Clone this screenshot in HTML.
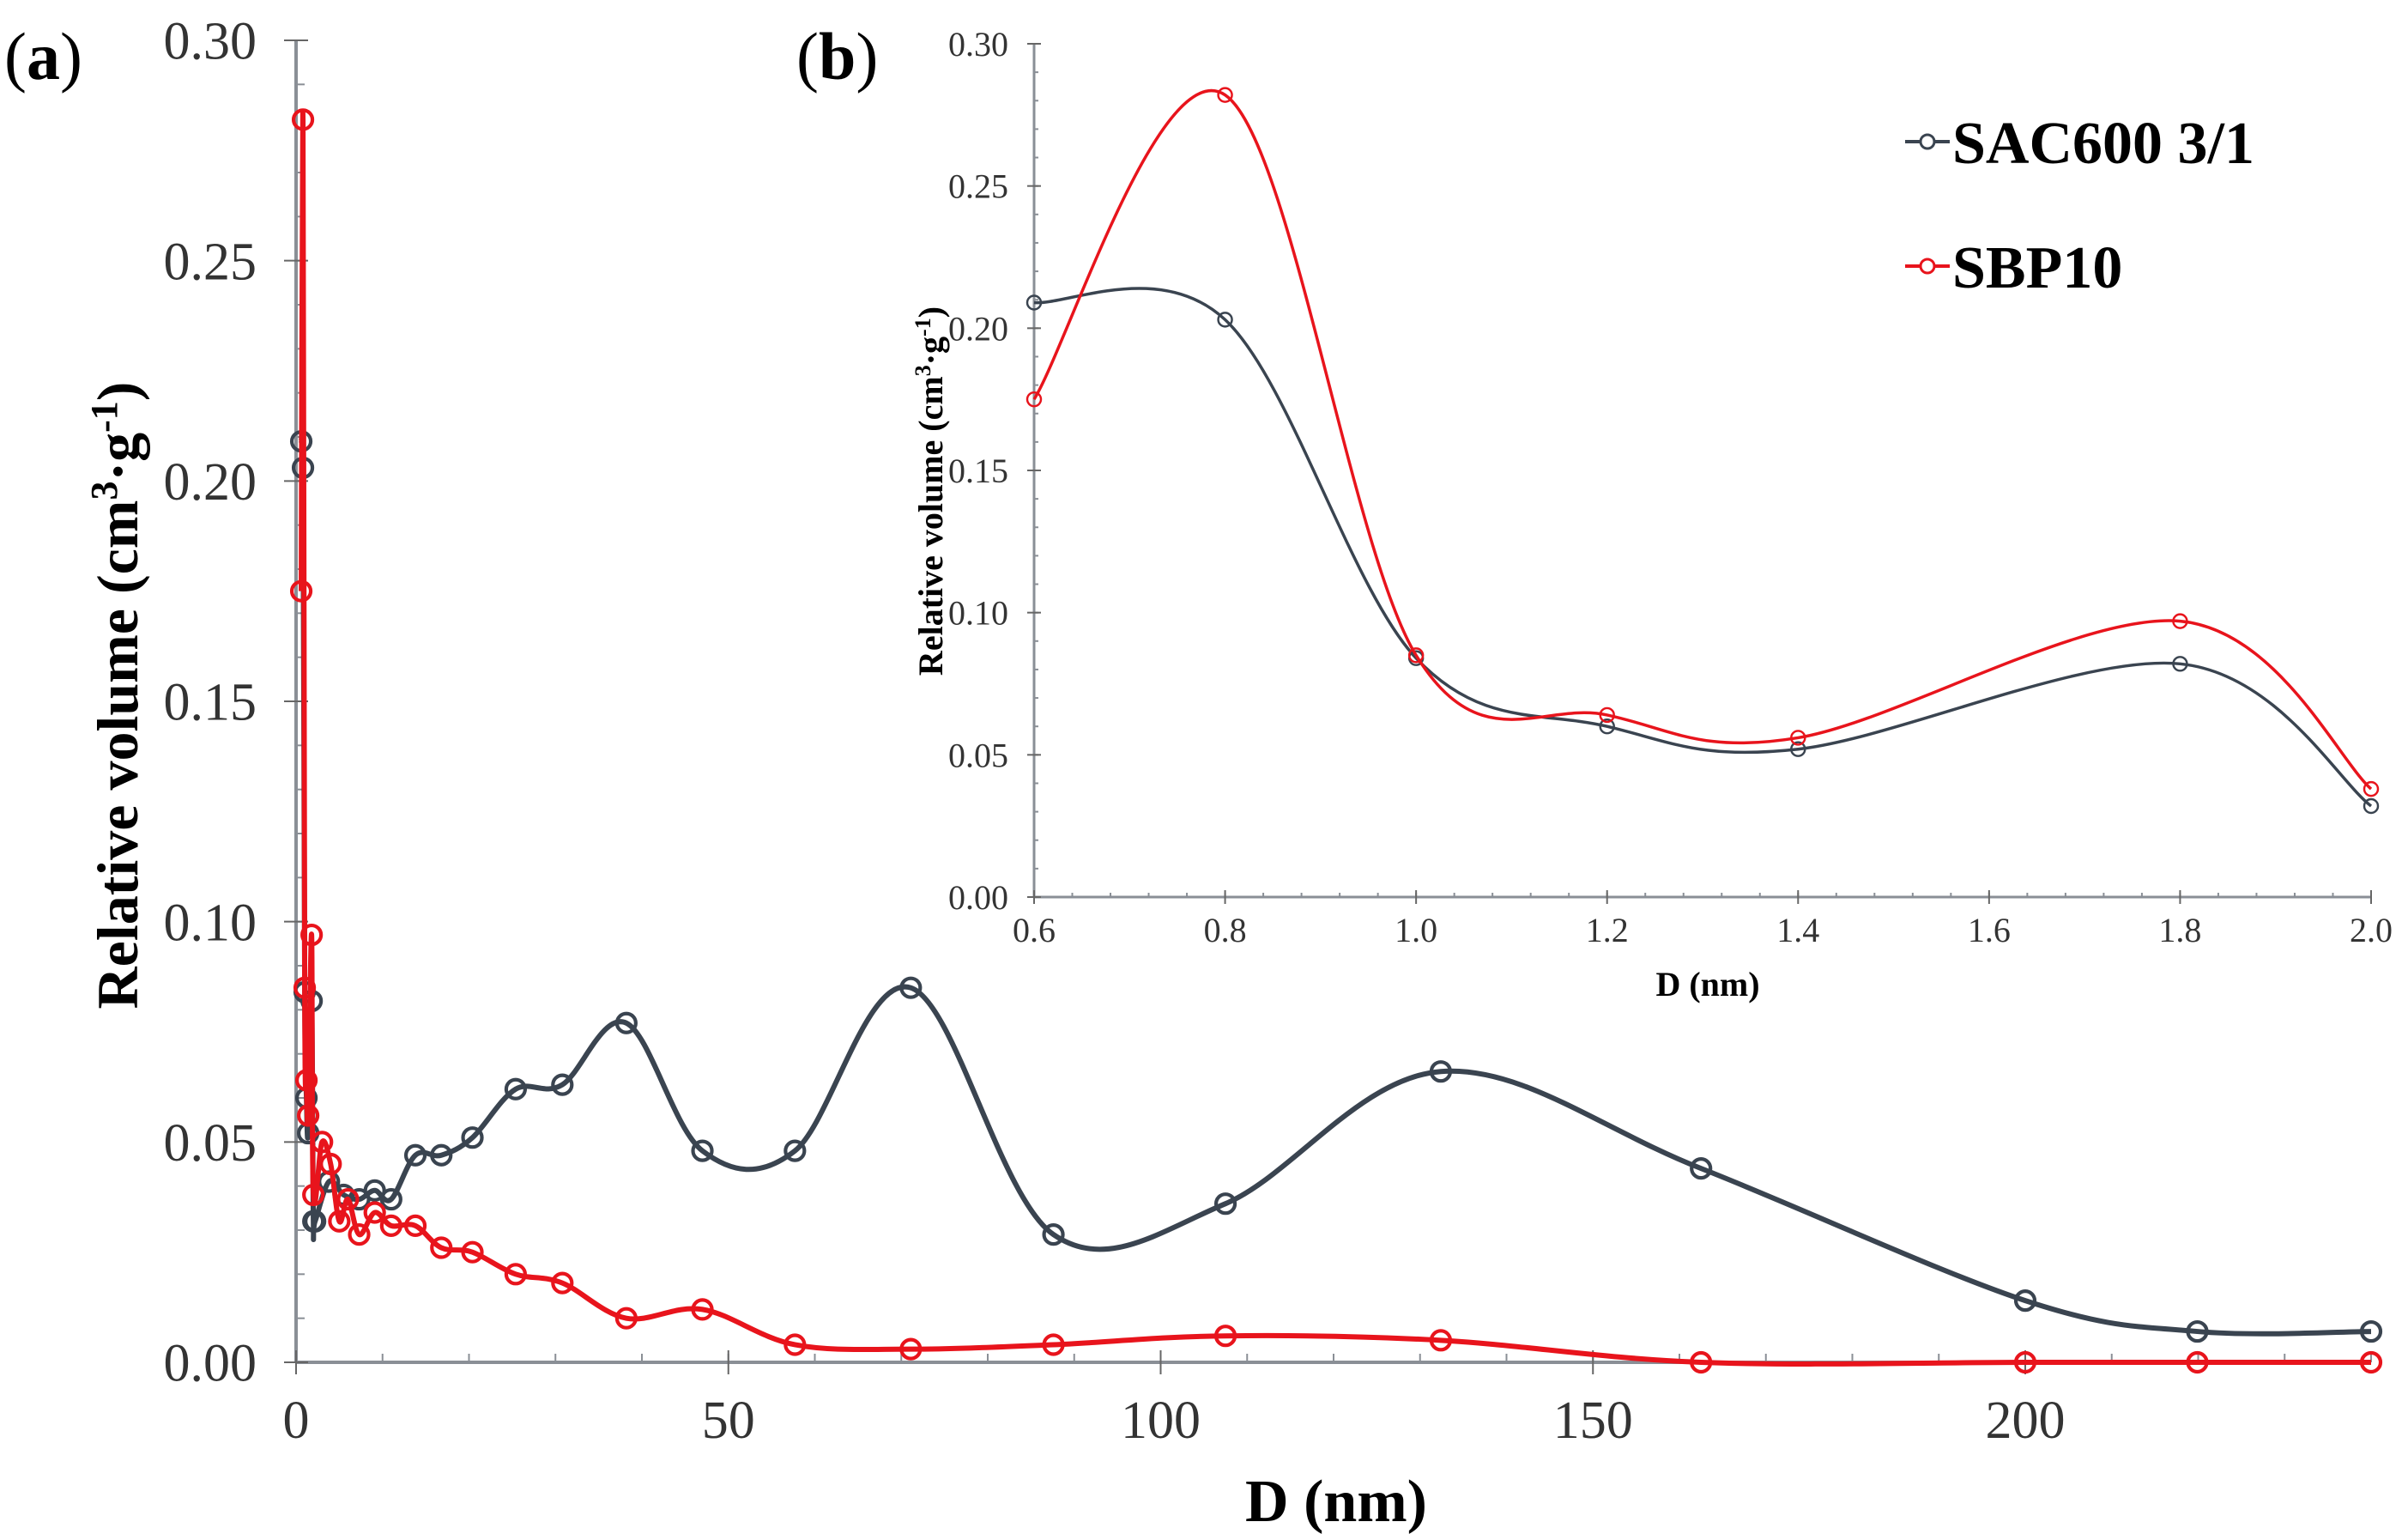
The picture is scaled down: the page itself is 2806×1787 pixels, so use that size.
<!DOCTYPE html>
<html><head><meta charset="utf-8"><style>
html,body{margin:0;padding:0;background:#fff;}
svg{display:block;font-family:"Liberation Serif",serif;}
</style></head><body>
<svg id="chart" width="2806" height="1787" viewBox="0 0 2806 1787" xmlns="http://www.w3.org/2000/svg">
<g id="main"></g>
<g id="inset"></g>
<text x="5" y="92" font-size="78">(<tspan font-weight="bold">a</tspan>)</text>
<text x="928" y="92" font-size="78">(<tspan font-weight="bold">b</tspan>)</text>
<text transform="translate(160,810) rotate(-90)" text-anchor="middle" font-size="68" font-weight="bold">Relative volume (cm<tspan baseline-shift="super" font-size="44">3</tspan>·g<tspan baseline-shift="super" font-size="44">-1</tspan>)</text>
<text x="1557" y="1772" text-anchor="middle" font-size="70" font-weight="bold">D (nm)</text>
<text transform="translate(1098,572) rotate(-90)" text-anchor="middle" font-size="40" font-weight="bold">Relative volume (cm<tspan baseline-shift="super" font-size="26">3</tspan>·g<tspan baseline-shift="super" font-size="26">-1</tspan>)</text>
<text x="1990" y="1160" text-anchor="middle" font-size="40" font-weight="bold">D (nm)</text>
<g>
 <g>
  <line x1="2220" y1="165" x2="2272" y2="165" stroke="#3a4450" stroke-width="4"/>
  <circle cx="2246" cy="165" r="8" fill="#fff" stroke="#3a4450" stroke-width="3"/>
  <text x="2275" y="190" font-size="70" font-weight="bold">SAC600 3/1</text>
 </g>
 <g>
  <line x1="2220" y1="310" x2="2272" y2="310" stroke="#e8141c" stroke-width="4"/>
  <circle cx="2246" cy="310" r="8" fill="#fff" stroke="#e8141c" stroke-width="3"/>
  <text x="2275" y="335" font-size="70" font-weight="bold">SBP10</text>
 </g>
</g>
</svg>
<script>
const sacD = [0.6,0.8,1.0,1.2,1.4,1.8,2.0,2.2,3.8,5.5,7.3,9.1,11,13.8,16.8,20.4,25.4,30.8,38.2,47,57.7,71.1,87.6,107.5,132.4,162.5,200,219.9,240];
const sacV = [0.209,0.203,0.084,0.060,0.052,0.082,0.032,0.032,0.041,0.038,0.037,0.039,0.037,0.047,0.047,0.051,0.062,0.063,0.077,0.048,0.048,0.085,0.029,0.036,0.066,0.044,0.014,0.007,0.007];
const sbpD = [0.6,0.8,1.0,1.2,1.4,1.8,2.0,3,4,5,6,7.3,9.1,11,13.8,16.8,20.4,25.4,30.8,38.2,47,57.7,71.1,87.6,107.5,132.4,162.5,200,219.9,240];
const sbpV = [0.175,0.282,0.085,0.064,0.056,0.097,0.038,0.050,0.045,0.032,0.037,0.029,0.034,0.031,0.031,0.026,0.025,0.020,0.018,0.010,0.012,0.004,0.003,0.004,0.006,0.005,0.000,0.000,0.000,0.000];
const insetD = [0.6,0.8,1.0,1.2,1.4,1.8,2.0];
const insetSac = [0.209,0.203,0.084,0.060,0.052,0.082,0.032];
const insetSbp = [0.175,0.282,0.085,0.064,0.056,0.097,0.038];
const mainXTicks = [0,50,100,150,200];
const mainYTicks = ["0.00","0.05","0.10","0.15","0.20","0.25","0.30"];
const insetXTicks = ["0.6","0.8","1.0","1.2","1.4","1.6","1.8","2.0"];
const insetYTicks = ["0.00","0.05","0.10","0.15","0.20","0.25","0.30"];

const NS="http://www.w3.org/2000/svg";
function mk(parent,tag,attrs){const e=document.createElementNS(NS,tag);for(const k in attrs)e.setAttribute(k,attrs[k]);parent.appendChild(e);return e;}
function smooth(pts){let d=`M${pts[0][0]},${pts[0][1]}`;for(let i=0;i<pts.length-1;i++){const p0=pts[Math.max(0,i-1)],p1=pts[i],p2=pts[i+1],p3=pts[Math.min(pts.length-1,i+2)];const t=0.17;d+=` C${p1[0]+(p2[0]-p0[0])*t},${p1[1]+(p2[1]-p0[1])*t} ${p2[0]-(p3[0]-p1[0])*t},${p2[1]-(p3[1]-p1[1])*t} ${p2[0]},${p2[1]}`;}return d;}

function drawPanel(g,o){
  const X=v=>o.x0+(v-o.xmin)/(o.xmax-o.xmin)*(o.x1-o.x0);
  const Y=v=>o.y0-(v-0)/0.30*(o.y0-o.y1);
  const ax=mk(g,'line',{x1:o.x0,y1:o.y0,x2:o.x1,y2:o.y0,stroke:'#8a8f96','stroke-width':o.aw});
  
  const ay=mk(g,'line',{x1:o.x0,y1:o.y0,x2:o.x0,y2:o.y1,stroke:'#8a8f96','stroke-width':o.aw});
  
  for(let v=o.xmin;v<=o.xmax+1e-9;v+=o.xminor){mk(g,'line',{x1:X(v),y1:o.y0,x2:X(v),y2:o.y0-o.mt,stroke:'#8a8f96','stroke-width':2});}
  for(let v=0;v<=0.3001;v+=0.01){mk(g,'line',{x1:o.x0,y1:Y(v),x2:o.x0+o.mt,y2:Y(v),stroke:'#8a8f96','stroke-width':2});}
  o.xt.forEach(t=>{const v=+t;mk(g,'line',{x1:X(v),y1:o.y0-o.Mt,x2:X(v),y2:o.y0+o.Mt,stroke:'#666','stroke-width':2});
    const tx=mk(g,'text',{x:X(v),y:o.y0+o.xly,'text-anchor':'middle','font-size':o.fs,fill:'#333'});tx.textContent=t;
    });
  o.yt.forEach(t=>{const v=+t;mk(g,'line',{x1:o.x0-o.Mt,y1:Y(v),x2:o.x0+o.Mt,y2:Y(v),stroke:'#666','stroke-width':2});
    const tx=mk(g,'text',{x:o.x0-o.ylx,y:Y(v)+o.fs*0.35,'text-anchor':'end','font-size':o.fs,fill:'#333'});tx.textContent=t;
    });
  o.series.forEach(s=>{
    const pts=s.d.map((d,i)=>[X(d),Y(s.v[i])]);
    const path=mk(g,'path',{d:smooth(pts),fill:'none',stroke:s.c,'stroke-width':o.lw,'stroke-linejoin':'round'});
    
    pts.forEach(p=>{const c=mk(g,'circle',{cx:p[0],cy:p[1],r:o.r,fill:'none',stroke:s.c,'stroke-width':o.lw*0.7});
      });
  });
}
drawPanel(document.getElementById('main'),{p:'main-',x0:345,x1:2763,y0:1587,y1:47,xmin:0,xmax:240,xminor:10,
  xt:mainXTicks.map(String),yt:mainYTicks,fs:62,xly:88,ylx:46,mt:10,Mt:14,aw:4,lw:6,r:11,
  series:[{n:'sac600',d:sacD,v:sacV,c:'#3a4450'},{n:'sbp10',d:sbpD,v:sbpV,c:'#e8141c'}]});
drawPanel(document.getElementById('inset'),{p:'inset-',x0:1205,x1:2763,y0:1045,y1:51,xmin:0.6,xmax:2.0,xminor:0.04,
  xt:insetXTicks,yt:insetYTicks,fs:40,xly:52,ylx:30,mt:5,Mt:8,aw:3,lw:3.5,r:8,
  series:[{n:'sac600',d:insetD,v:insetSac,c:'#3a4450'},{n:'sbp10',d:insetD,v:insetSbp,c:'#e8141c'}]});
</script>
</body></html>
